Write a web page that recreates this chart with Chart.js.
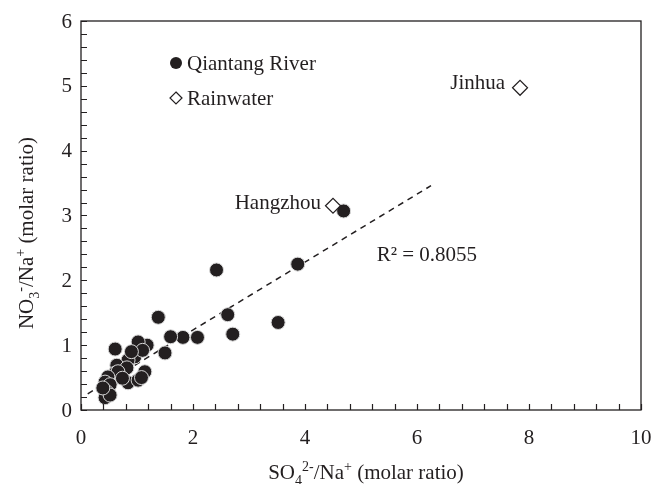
<!DOCTYPE html>
<html><head><meta charset="utf-8">
<script src="https://cdn.jsdelivr.net/npm/chart.js@4/dist/chart.umd.min.js"></script>
<style>html,body{margin:0;padding:0;background:#fff}#wrap{width:654px;height:484px}</style>
</head><body><div id="wrap"><canvas id="c" width="654" height="484"></canvas></div>
<script>
const riverX = [4.69,3.87,2.42,2.62,3.52,2.71,1.38,1.82,1.60,2.08,1.50,1.18,1.02,0.61,0.96,0.84,0.64,0.82,0.61,0.66,1.14,0.48,0.43,0.84,1.02,0.52,0.46,0.43,0.52,0.39,1.10,0.90,0.74,1.08];
const riverY = [3.07,2.25,2.16,1.47,1.35,1.17,1.43,1.12,1.13,1.12,0.88,1.00,1.05,0.94,0.82,0.77,0.69,0.65,0.57,0.59,0.59,0.51,0.43,0.42,0.46,0.39,0.28,0.19,0.23,0.34,0.92,0.90,0.49,0.50];
const rainNames = ["Jinhua","Hangzhou"];
const rainX = [7.84,4.50];
const rainY = [4.97,3.15];
const trendX = [0.12,6.25];
const trendY = [0.25,3.46];
const r2Label = "R² = 0.8055";
const xTicks = [0,2,4,6,8,10];
const yTicks = [0,1,2,3,4,5,6];

const FONT = "'Liberation Serif', 'Times New Roman', serif";
const TXT = '#231f20';
const FS = 21;

const pts = (xs, ys) => xs.map((x,i)=>({x, y: ys[i]}));

const decor = {
  id:'decor',
  afterDraw(chart){
    const {ctx, chartArea:a, scales:{x, y}} = chart;
    ctx.save();
    ctx.strokeStyle = '#231f20';
    ctx.lineWidth = 1.3;
    ctx.strokeRect(a.left, a.top, a.right-a.left, a.bottom-a.top);
    ctx.beginPath();
    for (let v=0; v<=10.001; v+=0.4){
      const px = Math.round(x.getPixelForValue(v))+0.5;
      ctx.moveTo(px, a.bottom); ctx.lineTo(px, a.bottom-6);
    }
    for (let v=0; v<=6.001; v+=0.2){
      const py = Math.round(y.getPixelForValue(v))+0.5;
      ctx.moveTo(a.left, py); ctx.lineTo(a.left+6, py);
    }
    ctx.lineWidth = 1.2;
    ctx.stroke();

    ctx.fillStyle = TXT;
    ctx.font = FS + 'px ' + FONT;
    // tick labels
    ctx.textBaseline = 'middle';
    ctx.textAlign = 'center';
    xTicks.forEach(v => ctx.fillText(String(v), x.getPixelForValue(v), a.bottom + 28));
    ctx.textAlign = 'right';
    yTicks.forEach(v => ctx.fillText(String(v), a.left - 9, y.getPixelForValue(v) + 1));

    // annotations
    ctx.textAlign = 'right';
    ctx.fillText(rainNames[0], x.getPixelForValue(rainX[0]) - 15, y.getPixelForValue(rainY[0]) - 4);
    ctx.fillText(rainNames[1], x.getPixelForValue(rainX[1]) - 12, y.getPixelForValue(rainY[1]) - 2);
    ctx.textAlign = 'left';
    ctx.fillText(r2Label, x.getPixelForValue(5.28), y.getPixelForValue(2.38));

    // legend
    const lx = 176, ly1 = 63, ly2 = 98;
    ctx.beginPath(); ctx.arc(lx, ly1, 6, 0, Math.PI*2); ctx.fillStyle = '#231f20'; ctx.fill();
    ctx.beginPath(); ctx.moveTo(lx, ly2-6); ctx.lineTo(lx+6, ly2); ctx.lineTo(lx, ly2+6); ctx.lineTo(lx-6, ly2); ctx.closePath();
    ctx.fillStyle = '#fff'; ctx.fill(); ctx.lineWidth = 1.2; ctx.strokeStyle = '#231f20'; ctx.stroke();
    ctx.fillStyle = TXT;
    ctx.fillText('Qiantang River', lx+11, ly1+1);
    ctx.fillText('Rainwater', lx+11, ly2+1);

    // axis titles
    const drawRich = (parts, cx, cy) => {
      const f = p => (p.s ? Math.round(FS*0.66) : FS) + 'px ' + FONT;
      let w = 0;
      parts.forEach(p => { ctx.font = f(p); w += ctx.measureText(p.t).width; });
      let cur = cx - w/2;
      ctx.textAlign = 'left'; ctx.textBaseline = 'alphabetic';
      parts.forEach(p => {
        ctx.font = f(p);
        const off = p.s === 'sub' ? 6 : p.s === 'sup' ? -8 : 0;
        ctx.fillText(p.t, cur, cy + off);
        cur += ctx.measureText(p.t).width;
      });
    };
    drawRich([{t:'SO'},{t:'4',s:'sub'},{t:'2-',s:'sup'},{t:'/Na'},{t:'+',s:'sup'},{t:' (molar ratio)'}], 366, 479);
    ctx.save();
    ctx.translate(33, 233);
    ctx.rotate(-Math.PI/2);
    drawRich([{t:'NO'},{t:'3',s:'sub'},{t:'-',s:'sup'},{t:'/Na'},{t:'+',s:'sup'},{t:' (molar ratio)'}], 0, 0);
    ctx.restore();
    ctx.restore();
  }
};

new Chart(document.getElementById('c'), {
  type: 'scatter',
  data: {
    datasets: [
      { label:'trend', type:'line', data: pts(trendX, trendY), borderColor:'#231f20', borderWidth:1.5, borderDash:[6,5], pointRadius:0, fill:false, order:3 },
      { label:'Qiantang River', data: pts(riverX, riverY), pointStyle:'circle', pointRadius:7, backgroundColor:'#231f20', borderColor:'#d8d8d8', borderWidth:1, order:2 },
      { label:'Rainwater', data: pts(rainX, rainY), pointStyle:'rectRot', pointRadius:7.5, backgroundColor:'#ffffff', borderColor:'#231f20', borderWidth:1.2, order:1 }
    ]
  },
  options: {
    responsive:false, animation:false, devicePixelRatio:1,
    layout:{ padding:{ top:21, right:13, left:0, bottom:0 } },
    plugins:{ legend:{display:false}, tooltip:{enabled:false} },
    scales:{
      x:{ type:'linear', min:0, max:10,
        afterBuildTicks(s){ s.ticks = xTicks.map(v=>({value:v})); },
        afterFit(s){ s.height = 74; },
        grid:{ display:false, drawTicks:false }, border:{ display:false },
        ticks:{ display:false } },
      y:{ type:'linear', min:0, max:6,
        afterBuildTicks(s){ s.ticks = yTicks.map(v=>({value:v})); },
        afterFit(s){ s.width = 81; },
        grid:{ display:false, drawTicks:false }, border:{ display:false },
        ticks:{ display:false } }
    }
  },
  plugins:[decor]
});
</script></body></html>
